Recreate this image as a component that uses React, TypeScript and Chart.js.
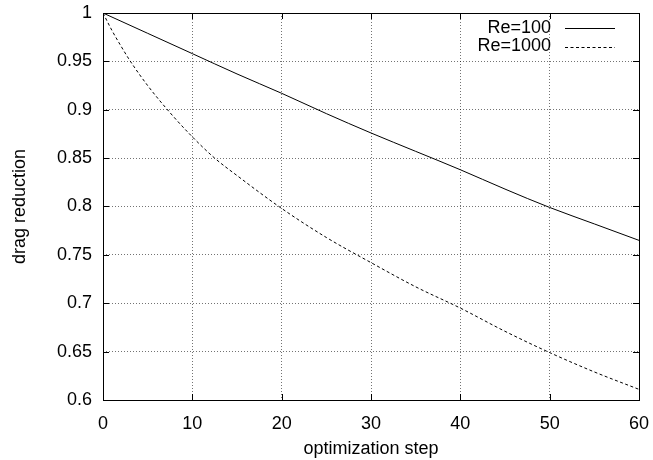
import React, { useEffect, useRef } from "react";
import { Chart, registerables } from "chart.js";

Chart.register(...registerables);

const steps100 = [0, 5, 10, 15, 20, 25, 30, 35, 40, 45, 50, 55, 60];
const re100 = [1, 0.979, 0.958, 0.937, 0.917, 0.896, 0.876, 0.857, 0.838, 0.818, 0.799, 0.782, 0.765];

const steps1000 = [0, 1, 2, 3, 5, 7.5, 10, 12.5, 15, 20, 25, 30, 35, 40, 45, 50, 55, 60];
const re1000 = [1, 0.982, 0.966, 0.951, 0.925, 0.897, 0.872, 0.85, 0.832, 0.798, 0.768, 0.742, 0.717, 0.695, 0.671, 0.649, 0.629, 0.611];

const xTicks = [0, 10, 20, 30, 40, 50, 60];
const yTicks = [0.6, 0.65, 0.7, 0.75, 0.8, 0.85, 0.9, 0.95, 1];
const seriesLabels = ["Re=100", "Re=1000"];
const xTitle = "optimization step";
const yTitle = "drag reduction";

const FONT = "'Liberation Sans', Arial, Helvetica, sans-serif";
const FS = 18;

const framePlugin = {
  id: "frame",
  afterDraw(chart: any) {
    const ctx = chart.ctx;
    const { left, right, top, bottom } = chart.chartArea;
    const xs = chart.scales.x;
    const ys = chart.scales.y;
    ctx.save();
    ctx.strokeStyle = "#000";
    ctx.lineWidth = 1;
    ctx.setLineDash([]);
    ctx.strokeRect(Math.round(left) + 0.5, Math.round(top) + 0.5, Math.round(right - left), Math.round(bottom - top));
    const tl = 6;
    ctx.beginPath();
    xTicks.forEach((v) => {
      const px = Math.round(xs.getPixelForValue(v)) + 0.5;
      ctx.moveTo(px, bottom);
      ctx.lineTo(px, bottom - tl);
      ctx.moveTo(px, top);
      ctx.lineTo(px, top + tl);
    });
    yTicks.forEach((v) => {
      const py = Math.round(ys.getPixelForValue(v)) + 0.5;
      ctx.moveTo(left, py);
      ctx.lineTo(left + tl, py);
      ctx.moveTo(right, py);
      ctx.lineTo(right - tl, py);
    });
    ctx.stroke();

    // legend
    ctx.font = FS + "px " + FONT;
    ctx.fillStyle = "#000";
    ctx.textAlign = "right";
    ctx.textBaseline = "middle";
    const rows = [28, 46.5];
    const dashes = [[], [3, 2.5]];
    seriesLabels.forEach((lab, i) => {
      ctx.fillText(lab, 551, rows[i]);
      ctx.beginPath();
      ctx.setLineDash(dashes[i]);
      ctx.moveTo(565, Math.round(rows[i]) + 0.5);
      ctx.lineTo(615, Math.round(rows[i]) + 0.5);
      ctx.stroke();
    });
    ctx.restore();
  },
};

export default function App() {
  const ref = useRef<HTMLCanvasElement>(null);
  useEffect(() => {
    if (!ref.current) return;
    const chart = new Chart(ref.current, {
      type: "line",
      data: {
        datasets: [
          {
            label: seriesLabels[0],
            data: steps100.map((x, i) => ({ x, y: re100[i] })),
            borderColor: "#000",
            borderWidth: 1,
            pointRadius: 0,
            fill: false,
            cubicInterpolationMode: "monotone",
          },
          {
            label: seriesLabels[1],
            data: steps1000.map((x, i) => ({ x, y: re1000[i] })),
            borderColor: "#000",
            borderWidth: 1,
            borderDash: [3, 2.5],
            pointRadius: 0,
            fill: false,
            cubicInterpolationMode: "monotone",
          },
        ],
      },
      options: {
        animation: false,
        responsive: false,
        layout: { padding: { top: 13, right: 14, left: 0, bottom: 0 } },
        plugins: { legend: { display: false }, tooltip: { enabled: false } },
        scales: {
          x: {
            type: "linear",
            min: 0,
            max: 60,
            afterBuildTicks: (s: any) => {
              s.ticks = xTicks.map((v) => ({ value: v }));
            },
            afterFit: (s: any) => {
              s.height = 60;
              s.paddingLeft = 0;
              s.paddingRight = 0;
            },
            ticks: {
              color: "#000",
              font: { size: FS, family: FONT },
              padding: 13,
              maxRotation: 0,
              callback: (v: any) => String(v),
            },
            grid: { color: "rgba(0,0,0,0.55)", lineWidth: 1, drawTicks: false },
            border: { display: false, dash: [1, 2] },
            title: {
              display: true,
              text: xTitle,
              color: "#000",
              font: { size: FS, family: FONT },
              padding: { top: 0, bottom: 0 },
            },
          },
          y: {
            type: "linear",
            min: 0.6,
            max: 1,
            afterBuildTicks: (s: any) => {
              s.ticks = yTicks.map((v) => ({ value: v }));
            },
            afterFit: (s: any) => {
              s.width = 103;
              s.paddingTop = 0;
              s.paddingBottom = 0;
            },
            ticks: {
              color: "#000",
              font: { size: FS, family: FONT },
              padding: 11,
              callback: (v: any) => String(Math.round(v * 100) / 100),
            },
            grid: { color: "rgba(0,0,0,0.55)", lineWidth: 1, drawTicks: false },
            border: { display: false, dash: [1, 2] },
            title: {
              display: true,
              text: yTitle,
              color: "#000",
              font: { size: FS, family: FONT },
              padding: { top: 9, bottom: 0 },
            },
          },
        },
      },
      plugins: [framePlugin],
    } as any);
    return () => chart.destroy();
  }, []);
  return (
    <div style={{ position: "fixed", left: 0, top: 0, width: 653, height: 460, background: "#fff" }}>
      <canvas ref={ref} width={653} height={460} style={{ display: "block" }} />
    </div>
  );
}
